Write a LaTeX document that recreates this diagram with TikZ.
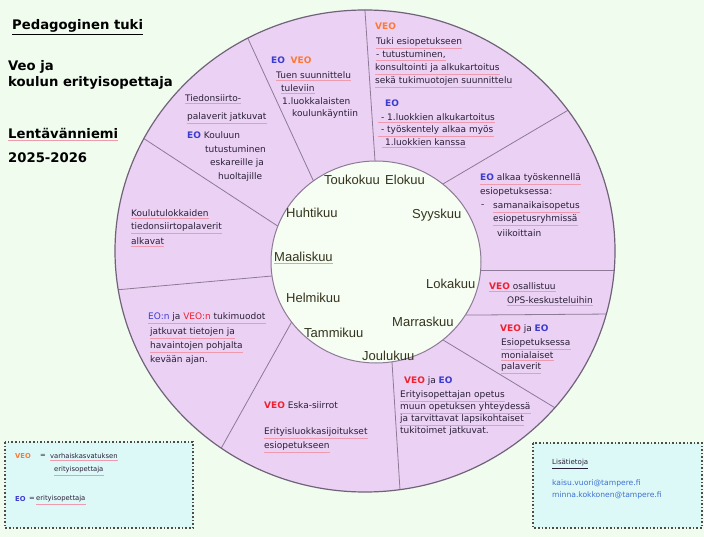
\documentclass[tikz,border=0pt]{standalone}
\usepackage{fontspec}
\setmainfont{Liberation Sans}
\newfontfamily\dvs{DejaVu Sans}
\usetikzlibrary{calc}
\definecolor{bg}{HTML}{F0FCEE}
\definecolor{ringc}{HTML}{EBD2F4}
\definecolor{innerc}{HTML}{F6FDF2}
\definecolor{spokec}{HTML}{8C7A96}
\definecolor{eoc}{HTML}{3B3BD0}
\definecolor{veoo}{HTML}{FF7733}
\definecolor{veor}{HTML}{F02030}
\definecolor{txt}{HTML}{2A1F38}
\definecolor{monthc}{HTML}{34341E}
\definecolor{legendc}{HTML}{DDF9F7}
\definecolor{mailc}{HTML}{3D6FD0}
\definecolor{ulc}{HTML}{F09AB0}
\newcommand{\EO}{\textcolor{eoc}{\bfseries EO}}
\newcommand{\VEOo}{\textcolor{veoo}{\bfseries VEO}}
\newcommand{\VEOr}{\textcolor{veor}{\bfseries VEO}}
\begin{document}
\begin{tikzpicture}[x=1pt,y=-1pt,
  sect/.style={anchor=west,inner sep=0pt,text=txt,font=\dvs\fontsize{9}{10}\selectfont},
  ul/.style={append after command={($(\tikzlastnode.south west)+(0,1.5)$) edge[draw=ulc,line width=0.7pt] ($(\tikzlastnode.south east)+(0,1.5)$)}},
  mon/.style={anchor=west,inner sep=0pt,text=monthc,font=\fontsize{13}{15}\selectfont},
  head/.style={anchor=west,inner sep=0pt,text=black,font=\dvs\bfseries\fontsize{13.2}{15}\selectfont},
  lg/.style={sect,font=\dvs\fontsize{6.8}{8}\selectfont},
  legbox/.style={draw=black!70,dotted,line width=1.6pt,fill=legendc},
  spk/.style={draw=spokec,line width=0.8pt}]
\useasboundingbox (0,0) rectangle (704,537);
\fill[bg] (0,0) rectangle (704,537);
% ring
\fill[ringc] (365,251) ellipse [x radius=250pt, y radius=241pt];
\begin{scope}
\clip (365,251) ellipse [x radius=250pt, y radius=241pt];
\foreach \a/\b in {{250,43}/{313,180},{365,11}/{375,161},{565,112}/{448,181},
  {617,270}/{480,270},{612,314}/{478,315},{552,406}/{448,343},{400,490}/{392,362},
  {223,445}/{290,325},{115,290}/{272,276},{143,138}/{273,223}}{
  \draw[spk] ($(\a)!-0.3!(\b)$) -- ($(\a)!1.1!(\b)$);
}
\end{scope}
\draw[spokec!80!black,line width=1.2pt] (365,251) ellipse [x radius=250pt, y radius=241pt];
\filldraw[fill=innerc,draw=spokec,line width=1pt] (376,262) ellipse [x radius=105pt, y radius=101pt];

% months
\node[mon] (m5) at (324,180) {Toukokuu};
\node[mon] (m8) at (385,180) {Elokuu};
\node[mon] (m9) at (412,215) {Syyskuu};
\node[mon] (m4) at (286,213) {Huhtikuu};
\node[mon,ul] (m3) at (274,257) {Maaliskuu};
\node[mon] (m10) at (426,284) {Lokakuu};
\node[mon] (m2) at (286,298) {Helmikuu};
\node[mon] (m11) at (392,322) {Marraskuu};
\node[mon] (m1) at (304,333) {Tammikuu};
\node[mon] (m12) at (362,356) {Joulukuu};

% headings
\node[head] (h1) at (12,26) {Pedagoginen tuki};
\draw[black,line width=0.8pt] (h1.south west) ++(0,2) -- ($(h1.south east)+(0,2)$);
\node[head] (h2) at (8,67) {Veo ja};
\node[head] (h3) at (8,83) {koulun erityisopettaja};
\node[head,ul] (h4) at (8,133) {Lentävänniemi};
\node[head] (h5) at (8,158) {2025-2026};

% sector A
\node[sect] (a1) at (271,60) {\EO\ \ \VEOo};
\node[sect,ul] (a2) at (276,75) {Tuen suunnittelu};
\node[sect,ul] (a3) at (281,88) {tuleviin};
\node[sect] (a4) at (282,101) {1.luokkalaisten};
\node[sect] (a5) at (292,114) {koulunkäyntiin};
% sector B
\node[sect] (b1) at (375,26) {\VEOo};
\node[sect,ul] (b2) at (376,42) {Tuki esiopetukseen};
\node[sect,ul] (b3) at (376,55) {- tutustuminen,};
\node[sect,ul] (b4) at (375,68) {konsultointi ja alkukartoitus};
\node[sect,ul] (b5) at (375,81) {sekä tukimuotojen suunnittelu};
\node[sect] (b6) at (385,103) {\EO};
\node[sect,ul] (b7) at (378,117) {\ - 1.luokkien alkukartoitus};
\node[sect,ul] (b8) at (378,130) {\ - työskentely alkaa myös};
\node[sect,ul] (b9) at (382,142) {\ 1.luokkien kanssa};
% sector C
\node[sect,ul] (c1) at (480,178) {\EO\ alkaa työskennellä};
\node[sect] (c2) at (480,192) {esiopetuksessa:};
\node[sect] (c3) at (481,206) {-};
\node[sect,ul] (c3b) at (493,206) {samanaikaisopetus};
\node[sect,ul] (c4) at (493,219) {esiopetusryhmissä};
\node[sect] (c5) at (497,233) {viikoittain};
% sector D
\node[sect,ul] (d1) at (489,286) {\VEOr\ osallistuu};
\node[sect,ul] (d2) at (507,300) {OPS-keskusteluihin};
% sector E
\node[sect] (e1) at (500,329) {\VEOr\ ja \EO};
\node[sect,ul] (e2) at (501,343) {Esiopetuksessa};
\node[sect,ul] (e3) at (501,355) {monialaiset};
\node[sect,ul] (e4) at (501,367) {palaverit};
% sector F
\node[sect] (f1) at (404,381) {\VEOr\ ja \EO};
\node[sect,ul] (f2) at (400,395) {Erityisopettajan opetus};
\node[sect,ul] (f3) at (400,407) {muun opetuksen yhteydessä};
\node[sect,ul] (f4) at (400,419) {ja tarvittavat lapsikohtaiset};
\node[sect] (f5) at (400,431) {tukitoimet jatkuvat.};
% sector G
\node[sect] (g1) at (264,405) {\VEOr\ Eska-siirrot};
\node[sect,ul] (g2) at (264,432) {Erityisluokkasijoitukset};
\node[sect,ul] (g3) at (264,446) {esiopetukseen};
% sector H
\node[sect,ul] (hh1) at (148,317) {\textcolor{eoc}{EO:n} ja \textcolor{veor}{VEO:n} tukimuodot};
\node[sect,ul] (hh2) at (150,332) {jatkuvat tietojen ja};
\node[sect,ul] (hh3) at (150,346) {havaintojen pohjalta};
\node[sect] (hh4) at (150,360) {kevään ajan.};
% sector I
\node[sect,ul] (i1) at (131,213) {Koulutulokkaiden};
\node[sect,ul] (i2) at (131,227) {tiedonsiirtopalaverit};
\node[sect,ul] (i3) at (131,241) {alkavat};
% sector J
\node[sect,ul] (j1) at (185,98) {Tiedonsiirto-};
\node[sect,ul] (j2) at (187,117) {palaverit jatkuvat};
\node[sect] (j3) at (187,135) {\EO\ Kouluun};
\node[sect] (j4) at (205,149) {tutustuminen};
\node[sect] (j5) at (210,163) {eskareille ja};
\node[sect] (j6) at (218,177) {huoltajille};

% legends
\filldraw[legbox] (5,442) rectangle (193,528);
\node[lg] (l1) at (15,456) {\VEOo};
\node[lg] (l1e) at (40,456) {=};
\node[lg,ul] (l1b) at (50,456) {varhaiskasvatuksen};
\node[lg,ul] (l2) at (54,470) {erityisopettaja};
\node[lg] (l3) at (15,499) {\EO};
\node[lg] (l3e) at (29,499) {=};
\node[lg,ul] (l3b) at (36,499) {erityisopettaja};
\filldraw[legbox] (533,443) rectangle (702,528);
\node[sect,font=\dvs\fontsize{7}{8}\selectfont] (r1) at (552,463) {Lisätietoja};
\draw[txt,line width=0.5pt] (r1.south west) ++(0,1.5) -- ($(r1.south east)+(0,1.5)$);
\node[sect,text=mailc,font=\dvs\fontsize{7.6}{9}\selectfont] (r2) at (552,483) {kaisu.vuori@tampere.fi};
\node[sect,text=mailc,font=\dvs\fontsize{7.6}{9}\selectfont] (r3) at (552,495) {minna.kokkonen@tampere.fi};
\end{tikzpicture}
\end{document}
